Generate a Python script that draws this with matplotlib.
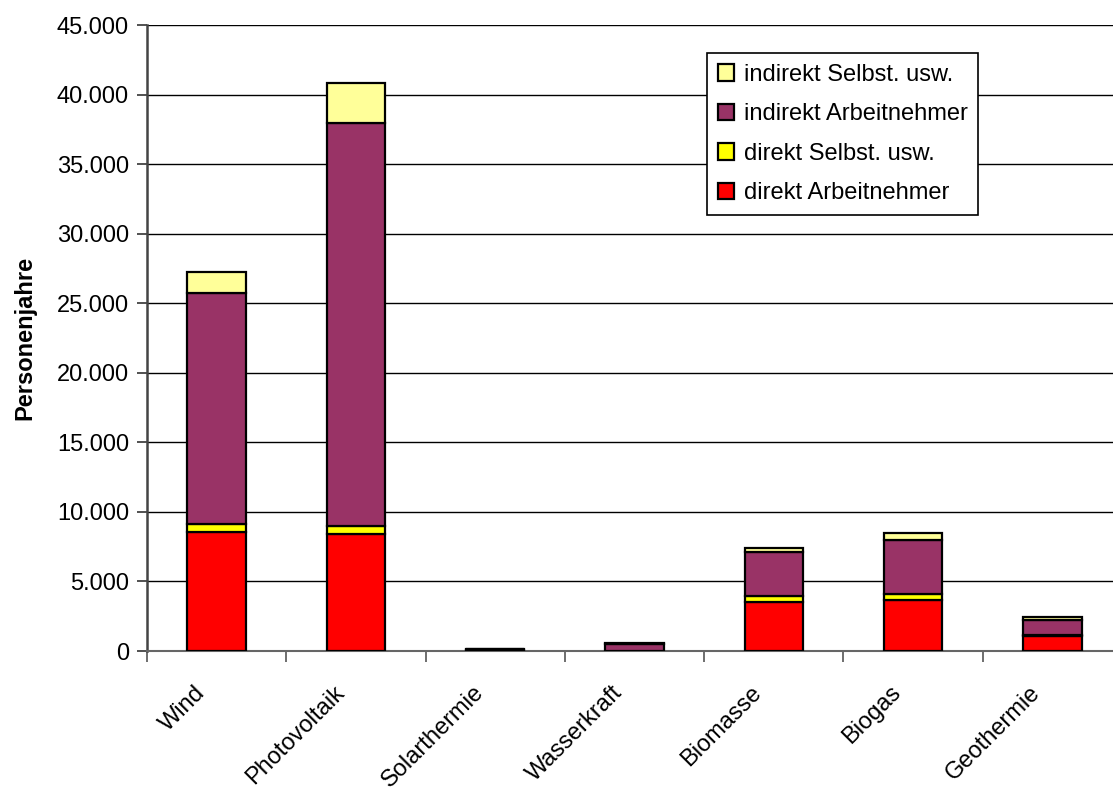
import numpy as np
import matplotlib.pyplot as plt
from matplotlib.transforms import ScaledTranslation

plt.rcParams['font.family'] = ['Liberation Sans', 'DejaVu Sans']

categories = ['Wind', 'Photovoltaik', 'Solarthermie', 'Wasserkraft',
              'Biomasse', 'Biogas', 'Geothermie']
direkt_an = [8580, 8400, 50, 20, 3500, 3670, 1100]
direkt_selbst = [550, 600, 10, 10, 430, 430, 40]
indirekt_an = [16570, 28950, 50, 490, 3210, 3880, 1110]
indirekt_selbst = [1570, 2850, 10, 30, 290, 480, 200]

series = [
    ('direkt Arbeitnehmer', direkt_an, '#ff0000'),
    ('direkt Selbst. usw.', direkt_selbst, '#ffff00'),
    ('indirekt Arbeitnehmer', indirekt_an, '#993366'),
    ('indirekt Selbst. usw.', indirekt_selbst, '#ffff99'),
]

fig = plt.figure(figsize=(11.13, 7.87), dpi=100)
ax = fig.add_axes([147 / 1113, 136 / 787, 975 / 1113, 626 / 787])

x = np.arange(len(categories))
bottom = np.zeros(len(categories))
handles = []
for label, vals, color in series:
    b = ax.bar(x, vals, width=0.42, bottom=bottom, color=color,
               edgecolor='black', linewidth=1.6, label=label, zorder=3)
    handles.append(b)
    bottom += np.array(vals)

ax.set_xlim(-0.5, len(categories) - 0.5)
ax.set_ylim(0, 45000)
ax.set_yticks(np.arange(0, 45001, 5000))
ax.set_yticklabels([f'{v:,}'.replace(',', '.') for v in range(0, 45001, 5000)])
ax.yaxis.grid(True, color='black', linewidth=1.0, zorder=0)

# category boundaries carry the tick marks, labels sit at the centres
ax.set_xticks(np.arange(-0.5, len(categories), 1.0))
ax.set_xticklabels([])
ax.set_xticks(x, minor=True)
ax.set_xticklabels(categories, minor=True, rotation=45, ha='right',
                   rotation_mode='anchor', fontsize=17)
ax.tick_params(axis='x', which='minor', length=0, pad=22)
ax.tick_params(axis='x', which='major', length=8, width=1.2, color='#555555')
ax.tick_params(axis='y', length=7, width=1.2, color='#333333',
               labelsize=17, pad=6)

shift = ScaledTranslation(-0.23, 0, fig.dpi_scale_trans)
for lbl in ax.get_xticklabels(minor=True):
    lbl.set_transform(lbl.get_transform() + shift)

for side in ['top', 'right']:
    ax.spines[side].set_visible(False)
ax.spines['left'].set_color('#444444')
ax.spines['left'].set_linewidth(1.8)
ax.spines['bottom'].set_color('#666666')
ax.spines['bottom'].set_linewidth(1.5)

ax.set_ylabel('Personenjahre', fontsize=17, fontweight='bold', labelpad=15)

leg = ax.legend(handles[::-1], [s[0] for s in series][::-1],
                loc='upper left', bbox_to_anchor=(560 / 975, 598 / 626),
                fontsize=17, frameon=True, fancybox=False, framealpha=1,
                edgecolor='black', handlelength=0.7, handleheight=0.7,
                handletextpad=0.4, labelspacing=0.74, borderpad=0.45,
                borderaxespad=0)
leg.get_frame().set_linewidth(1.2)

fig.savefig('out.png', dpi=100)
